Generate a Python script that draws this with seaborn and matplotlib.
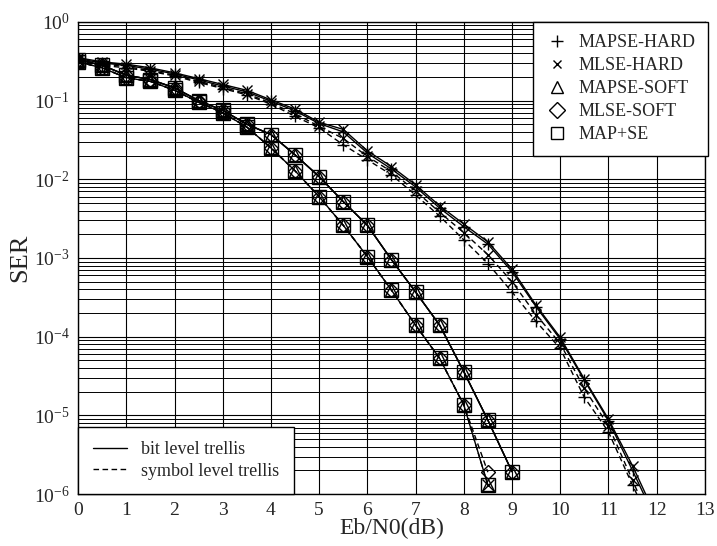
import numpy as np
import pandas as pd
import seaborn as sns
import matplotlib.pyplot as plt
from matplotlib.lines import Line2D
from matplotlib.ticker import LogLocator, NullFormatter

# data (Eb/N0 in dB, SER)
x_hard = [0, 0.5, 1, 1.5, 2, 2.5, 3, 3.5, 4, 4.5, 5, 5.5, 6, 6.5, 7, 7.5,
          8, 8.5, 9, 9.5, 10, 10.5, 11, 11.5, 12]
mlse_hard_bit = [0.35, 0.31, 0.29, 0.26, 0.225, 0.19, 0.16, 0.135, 0.102,
                 0.078, 0.053, 0.043, 0.023, 0.0145, 0.0085, 0.0046, 0.0027,
                 0.0016, 7.2e-4, 2.5e-4, 9.8e-5, 2.9e-5, 9.0e-6, 2.3e-6, 5e-7]
mapse_hard_bit = [0.34, 0.30, 0.28, 0.25, 0.218, 0.183, 0.153, 0.129, 0.098,
                  0.074, 0.051, 0.040, 0.0215, 0.0135, 0.0080, 0.0043, 0.0025,
                  0.0015, 6.7e-4, 2.4e-4, 9.3e-5, 2.8e-5, 8.6e-6, 2.0e-6, 4.5e-7]
mlse_hard_sym = [0.33, 0.29, 0.27, 0.24, 0.21, 0.175, 0.147, 0.122, 0.093,
                 0.068, 0.047, 0.033, 0.0195, 0.0125, 0.0071, 0.0038, 0.0021,
                 0.0011, 5.0e-4, 1.9e-4, 8.2e-5, 2.2e-5, 7.4e-6, 1.5e-6, 3e-7]
mapse_hard_sym = [0.32, 0.28, 0.26, 0.235, 0.205, 0.17, 0.142, 0.118, 0.09,
                  0.063, 0.045, 0.0274, 0.0177, 0.0114, 0.0063, 0.0034, 0.0017,
                  8.5e-4, 3.7e-4, 1.56e-4, 7.1e-5, 1.7e-5, 6.2e-6, 1.3e-6, 3e-7]

x_soft_bit = [0, 0.5, 1, 1.5, 2, 2.5, 3, 3.5, 4, 4.5, 5, 5.5, 6, 6.5, 7,
              7.5, 8, 8.5, 9]
soft_bit = [0.33, 0.28, 0.21, 0.185, 0.145, 0.10, 0.075, 0.05, 0.037,
            0.0204, 0.0108, 0.0052, 0.0026, 9.5e-4, 3.7e-4, 1.4e-4, 3.6e-5,
            8.7e-6, 1.93e-6]
x_soft_sym = [0, 0.5, 1, 1.5, 2, 2.5, 3, 3.5, 4, 4.5, 5, 5.5, 6, 6.5, 7,
              7.5, 8, 8.5]
soft_sym = [0.31, 0.26, 0.195, 0.175, 0.135, 0.095, 0.07, 0.046, 0.025,
            0.0128, 0.006, 0.0026, 1.04e-3, 3.9e-4, 1.4e-4, 5.3e-5, 1.36e-5,
            1.3e-6]
mlse_soft_sym = [0.31, 0.26, 0.195, 0.175, 0.135, 0.095, 0.07, 0.046, 0.025,
                 0.0128, 0.006, 0.0026, 1.04e-3, 3.9e-4, 1.4e-4, 5.3e-5,
                 1.36e-5, 1.9e-6]

labels = ["MAPSE-HARD", "MLSE-HARD", "MAPSE-SOFT", "MLSE-SOFT", "MAP+SE"]
markers = ["+", "x", "^", "D", "s"]
x_ticks = list(range(0, 14))

sns.set_style("white")
plt.rcParams["font.family"] = ["Liberation Serif", "DejaVu Serif"]
plt.rcParams["mathtext.fontset"] = "stix"

fig = plt.figure(figsize=(7.17, 5.46), dpi=100)
ax = fig.add_axes([0.109, 0.095, 0.874, 0.865])

lw = 1.0
dash = (4, 2.5)
mk = dict(color="black", mfc="none", mec="black", mew=1.0, lw=lw)

# hard decision curves
sns.lineplot(x=x_hard, y=mlse_hard_bit, marker="x", ms=6.5, ls="-", ax=ax, **mk)
sns.lineplot(x=x_hard, y=mapse_hard_bit, marker="+", ms=9, ls="-", ax=ax, **mk)
sns.lineplot(x=x_hard, y=mlse_hard_sym, marker="x", ms=6.5, dashes=dash,
             ax=ax, **mk)
sns.lineplot(x=x_hard, y=mapse_hard_sym, marker="+", ms=9, dashes=dash,
             ax=ax, **mk)

# soft decision curves, bit level
sns.lineplot(x=x_soft_bit, y=soft_bit, marker="s", ms=10, ls="-", ax=ax, **mk)
sns.lineplot(x=x_soft_bit, y=soft_bit, marker="^", ms=9, ls="-", ax=ax, **mk)
sns.lineplot(x=x_soft_bit, y=soft_bit, marker="D", ms=7, ls="-", ax=ax, **mk)
# soft decision curves, symbol level
sns.lineplot(x=x_soft_sym, y=soft_sym, marker="s", ms=10, ls="-", ax=ax, **mk)
sns.lineplot(x=x_soft_sym, y=soft_sym, marker="^", ms=9, dashes=dash, ax=ax,
             **mk)
sns.lineplot(x=x_soft_sym, y=mlse_soft_sym, marker="D", ms=7, dashes=dash,
             ax=ax, **mk)
sns.lineplot(x=x_soft_sym[-1:], y=soft_sym[-1:], marker="x", ms=8, ls="",
             ax=ax, **mk)

ax.set_yscale("log")
ax.set_xlim(0, 13)
ax.set_ylim(1e-6, 1)
ax.set_xticks(x_ticks)
ax.set_xticklabels([str(t) for t in x_ticks])
ax.yaxis.set_major_locator(LogLocator(base=10, numticks=10))
ax.yaxis.set_minor_locator(LogLocator(base=10, subs=np.arange(2, 10),
                                      numticks=100))
ax.yaxis.set_minor_formatter(NullFormatter())
ax.grid(True, which="major", color="black", lw=0.8)
ax.grid(True, which="minor", axis="y", color="black", lw=0.7)
ax.tick_params(axis="both", which="both", length=0, labelsize=14, pad=6)
for s in ax.spines.values():
    s.set_color("black")
    s.set_linewidth(1.0)

ax.set_xlabel("Eb/N0(dB)", fontsize=17, labelpad=-1)
ax.set_ylabel("SER", fontsize=19, labelpad=2)

h1 = [Line2D([], [], ls="", marker=m, color="black", mfc="none",
             ms={"+": 9, "x": 6, "^": 9, "D": 8, "s": 9}[m], mew=1.0)
      for m in markers]
leg1 = ax.legend(h1, labels, loc="upper right", bbox_to_anchor=(1.005, 1.0),
                 borderaxespad=0, fontsize=13, frameon=True, fancybox=False,
                 framealpha=1, edgecolor="black", handlelength=1.2,
                 handletextpad=0.6, labelspacing=0.33, borderpad=0.7)
leg1.get_frame().set_linewidth(1.0)
ax.add_artist(leg1)

h2 = [Line2D([], [], ls="-", color="black", lw=1.0),
      Line2D([], [], dashes=dash, color="black", lw=1.0)]
leg2 = ax.legend(h2, ["bit level trellis", "symbol level trellis"],
                 loc="lower left", bbox_to_anchor=(0, 0), borderaxespad=0,
                 fontsize=13, frameon=True, fancybox=False, framealpha=1,
                 edgecolor="black", handlelength=1.9, handletextpad=0.8,
                 labelspacing=0.25, borderpad=0.8)
leg2.get_frame().set_linewidth(1.0)

plt.savefig("out.png", dpi=100)
plt.close("all")
